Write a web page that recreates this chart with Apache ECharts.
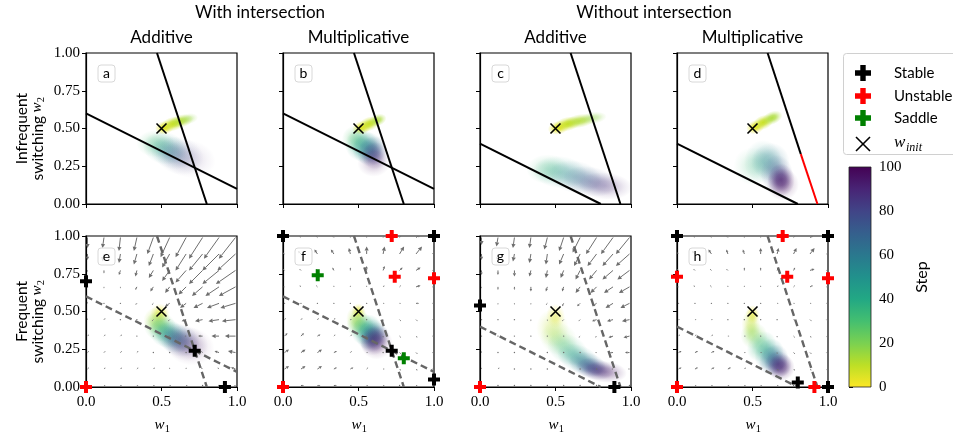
<!DOCTYPE html>
<html>
<head>
<meta charset="utf-8">
<script src="https://cdn.jsdelivr.net/npm/echarts@6/dist/echarts.min.js"></script>
<style>html,body{margin:0;padding:0;background:#fff}#chart{width:953px;height:436px}</style>
</head>
<body>
<div id="chart"></div>
<script>
// ---------- data ----------
const xTicks = [0, 0.5, 1];
const yTicks = [0, 0.25, 0.5, 0.75, 1];
const stepTicks = [0, 20, 40, 60, 80, 100];
const groupTitles = ['With intersection', 'Without intersection'];
const columnTitles = ['Additive', 'Multiplicative', 'Additive', 'Multiplicative'];
const panelLetters = ['a', 'b', 'c', 'd', 'e', 'f', 'g', 'h'];
const rowLabels = ['Infrequent', 'Frequent'];
const legendLabels = ['Stable', 'Unstable', 'Saddle'];
const initialWeight = [0.5, 0.5];

// nullclines, as end points [w1, w2]
const flatWith = [[0, 0.6], [1, 0.1]];
const steepWith = [[0.47, 1], [0.8, 0]];
const flatWithout = [[0, 0.4], [0.8, 0]];
const steepWithout = [[0.6, 1], [0.93, 0]];
const steepWithoutStable = [[0.6, 1], [0.82, 0.33]];
const steepWithoutUnstable = [[0.82, 0.33], [0.93, 0]];

// fixed points [w1, w2, kind]
const fixedE = [[0, 0.70, 'stable'], [0, 0, 'unstable'], [0.72, 0.24, 'stable'], [0.92, 0, 'stable']];
const fixedF = [[0, 1, 'stable'], [0.72, 1, 'unstable'], [1, 1, 'stable'], [0.23, 0.74, 'saddle'],
  [0.74, 0.73, 'unstable'], [1, 0.72, 'unstable'], [0.72, 0.24, 'stable'], [0.80, 0.19, 'saddle'],
  [1, 0.05, 'stable'], [0, 0, 'unstable']];
const fixedG = [[0, 0.54, 'stable'], [0, 0, 'unstable'], [0.89, 0, 'stable']];
const fixedH = [[0, 1, 'stable'], [0.70, 1, 'unstable'], [1, 1, 'stable'], [0, 0.73, 'unstable'],
  [0.73, 0.73, 'unstable'], [1, 0.72, 'unstable'], [0.80, 0.03, 'stable'], [0.91, 0, 'unstable'],
  [1, 0, 'stable'], [0, 0, 'unstable']];

// weight clouds over training: [step, w1, w2, spread1, spread2, tiltDeg, density]
const cloudA = [[4,0.52,0.505,0.035,0.025,10,1],[8,0.575,0.53,0.045,0.026,14,1],[12,0.63,0.55,0.045,0.024,12,0.85],
  [16,0.68,0.565,0.035,0.02,10,0.4],[30,0.46,0.40,0.07,0.05,0,0.3],[45,0.52,0.37,0.08,0.06,-10,0.35],
  [60,0.57,0.34,0.08,0.06,-15,0.3],[75,0.62,0.32,0.09,0.07,-15,0.22],[90,0.68,0.30,0.1,0.07,-10,0.14]];
const cloudB = [[4,0.52,0.505,0.035,0.025,15,1],[8,0.57,0.53,0.04,0.026,20,1],[13,0.625,0.555,0.035,0.022,20,0.85],
  [28,0.48,0.43,0.05,0.05,0,0.4],[40,0.52,0.39,0.06,0.06,-20,0.5],[55,0.56,0.37,0.055,0.06,-30,0.55],
  [70,0.59,0.35,0.05,0.06,-40,0.55],[85,0.61,0.32,0.05,0.05,-40,0.45],[97,0.60,0.27,0.06,0.05,0,0.22]];
const cloudC = [[4,0.52,0.505,0.04,0.025,12,1],[8,0.58,0.53,0.05,0.026,12,1],[12,0.66,0.55,0.06,0.025,10,0.85],
  [17,0.75,0.57,0.05,0.022,8,0.45],[32,0.45,0.23,0.08,0.055,0,0.28],[45,0.53,0.21,0.1,0.06,-5,0.3],
  [60,0.63,0.18,0.1,0.06,-10,0.3],[75,0.73,0.15,0.1,0.055,-10,0.35],[90,0.83,0.12,0.1,0.05,-5,0.3]];
const cloudD = [[4,0.52,0.51,0.035,0.025,20,1],[8,0.57,0.54,0.04,0.026,22,1],[13,0.63,0.57,0.04,0.024,22,0.9],
  [32,0.50,0.25,0.07,0.07,0,0.2],[45,0.57,0.28,0.07,0.08,0,0.3],[60,0.62,0.28,0.07,0.07,0,0.35],
  [75,0.66,0.20,0.06,0.07,0,0.45],[90,0.69,0.16,0.05,0.06,0,0.65],[100,0.70,0.13,0.06,0.06,0,0.3]];
const cloudE = [[3,0.49,0.49,0.035,0.035,0,0.55],[12,0.47,0.44,0.05,0.05,0,0.5],[25,0.49,0.40,0.06,0.055,-20,0.5],
  [40,0.53,0.36,0.065,0.055,-25,0.5],[55,0.58,0.33,0.07,0.055,-25,0.5],[70,0.62,0.31,0.075,0.06,-20,0.42],
  [85,0.66,0.29,0.085,0.065,-15,0.28],[100,0.69,0.27,0.09,0.07,-10,0.18]];
const cloudF = [[3,0.50,0.50,0.025,0.03,0,0.6],[12,0.49,0.45,0.04,0.05,0,0.5],[25,0.51,0.41,0.05,0.05,-40,0.55],
  [40,0.55,0.38,0.05,0.06,-40,0.6],[55,0.58,0.35,0.05,0.06,-40,0.6],[70,0.60,0.33,0.05,0.06,-40,0.6],
  [85,0.61,0.31,0.05,0.06,-40,0.5],[100,0.62,0.29,0.06,0.06,-40,0.3]];
const cloudG = [[3,0.50,0.47,0.035,0.045,0,0.4],[10,0.48,0.39,0.06,0.07,0,0.3],[20,0.52,0.32,0.07,0.06,-20,0.3],
  [35,0.58,0.25,0.08,0.055,-25,0.38],[50,0.65,0.19,0.08,0.05,-20,0.45],[65,0.71,0.15,0.07,0.045,-15,0.55],
  [80,0.76,0.12,0.07,0.04,-10,0.65],[95,0.83,0.10,0.08,0.04,-5,0.4]];
const cloudH = [[3,0.50,0.48,0.025,0.035,0,0.6],[10,0.49,0.41,0.035,0.06,0,0.45],[20,0.51,0.34,0.05,0.05,-30,0.45],
  [35,0.56,0.27,0.05,0.06,-40,0.5],[50,0.61,0.22,0.05,0.06,-40,0.55],[65,0.64,0.18,0.05,0.06,-40,0.6],
  [80,0.67,0.15,0.05,0.05,-40,0.65],[95,0.69,0.13,0.05,0.05,-40,0.5]];

// flow field sample positions (both axes) and arrow components (% of axis),
// rows from w2 = 0.99 down to w2 = 0.01, each row u0,v0,u1,v1,...
const flowGrid = [0.01, 0.119, 0.228, 0.337, 0.446, 0.554, 0.663, 0.772, 0.881, 0.99];
const flowE = [
  [0,-7, -1,-7, -1,-9, -2,-9, -4,-11, -6,-13, -7,-13, -9,-14, -10,-14, -11,-14],
  [0,-4, -1,-5, -1,-6, -2,-7, -3,-8, -5,-9, -7,-11, -9,-11, -11,-11, -12,-11],
  [0,-1, 0,-2, -1,-3, -1,-4, -3,-5, -5,-7, -7,-8, -9,-9, -11,-9, -13,-9],
  [0,0, 0,-1, 0,-1, -1,-2, -2,-3, -3,-4, -5,-5, -7,-6, -9,-6, -11,-6],
  [0,1, 0,0, 0,0, -1,-1, -1,-1, -3,-2, -4,-3, -6,-3, -8,-3, -10,-3],
  [0,1, 1,1, 0,0, 0,0, -1,-1, -1,-1, -3,-1, -5,-1, -7,-1, -9,-1],
  [1,1, 1,1, 1,1, 0,0, 0,0, -1,0, -1,0, -3,0, -5,0, -7,0],
  [1,1, 1,1, 1,1, 1,1, 0,0, 0,0, 0,0, -1,1, -3,1, -5,1],
  [1,1, 1,1, 1,1, 1,1, 1,1, 0,1, 0,1, -1,1, -1,1, -3,1],
  [1,0, 1,0, 1,0, 1,0, 1,0, 1,0, 1,0, 0,0, 0,0, -1,0]];
const flowF = [
  [-1,1, -1,1, -1,1, -1,1, 0,1, 0,1, 1,1, 1,1, 3,2, 0,0],
  [-2,1, -2,2, -2,3, -2,3, -1,4, 0,5, 1,5, 3,5, 4,5, 5,5],
  [-1,1, -1,1, -1,1, -1,2, 0,2, 0,3, 1,3, 2,2, 3,2, 4,2],
  [-1,0, -1,1, -1,1, 0,1, 0,1, 0,1, 1,1, 1,1, 3,1, 3,1],
  [0,0, 0,0, 0,0, 0,0, 0,0, 0,0, 1,0, 1,0, 2,0, 3,0],
  [1,1, 1,1, 1,1, 1,1, 1,0, 0,0, 0,-1, 1,-1, 1,-1, 2,-1],
  [2,2, 2,2, 2,1, 1,1, 1,1, 0,0, 0,-1, 1,-1, 1,-1, 2,-1],
  [3,2, 3,2, 3,2, 2,1, 1,1, 1,0, 0,0, 1,-1, 1,-1, 2,-1],
  [3,2, 3,2, 3,2, 2,1, 2,1, 1,1, 1,0, 1,-1, 1,-1, 2,-1],
  [2,0, 2,0, 2,0, 2,0, 1,0, 1,0, 1,0, 0,0, 1,0, 1,0]];
const flowG = [
  [0,-5, -1,-6, -1,-7, -1,-7, -2,-8, -3,-9, -5,-10, -7,-11, -8,-11, -9,-11],
  [0,-4, 0,-5, -1,-5, -1,-6, -1,-7, -3,-7, -4,-8, -6,-8, -7,-8, -9,-8],
  [0,-3, 0,-3, 0,-4, -1,-4, -1,-5, -2,-5, -3,-6, -5,-6, -7,-6, -8,-6],
  [0,-1, 0,-2, 0,-2, 0,-3, -1,-3, -1,-3, -3,-4, -4,-4, -6,-4, -7,-4],
  [0,-1, 0,-1, 0,-1, 0,-1, -1,-1, -1,-2, -2,-2, -3,-2, -5,-3, -6,-3],
  [0,0, 0,0, 0,0, 0,-1, 0,-1, -1,-1, -1,-1, -3,-1, -4,-1, -5,-1],
  [0,0, 0,0, 0,0, 0,0, 0,0, 0,0, -1,-1, -1,-1, -3,-1, -4,-1],
  [0,1, 0,0, 0,0, 0,0, 0,0, 0,0, 0,0, -1,0, -2,0, -3,0],
  [0,1, 1,1, 0,0, 0,0, 0,0, 0,0, 0,0, 0,0, -1,0, -1,0],
  [0,0, 0,0, 0,0, 0,0, 0,0, 0,0, 0,0, 0,0, 0,0, 0,0]];
const flowH = [
  [-1,1, -1,1, -1,1, -1,1, 0,1, 0,1, 1,1, 1,1, 2,1, 0,0],
  [-1,1, -2,2, -2,3, -1,3, -1,3, 0,4, 1,4, 2,4, 3,4, 5,4],
  [-1,1, -1,1, -1,1, -1,1, 0,2, 0,2, 1,2, 1,2, 3,1, 3,1],
  [-1,0, -1,1, -1,1, 0,1, 0,1, 0,1, 1,1, 1,1, 2,1, 3,1],
  [0,0, 0,0, 0,0, 0,0, 0,0, 0,0, 1,0, 1,0, 1,0, 2,0],
  [1,0, 1,0, 1,0, 0,0, 0,0, 0,0, 0,0, 1,0, 1,-1, 1,-1],
  [1,1, 1,1, 1,1, 1,0, 1,0, 0,0, 0,-1, 1,-1, 1,-1, 1,-1],
  [2,1, 2,1, 2,1, 1,1, 1,0, 1,0, 0,-1, 1,-1, 1,-1, 1,-1],
  [2,1, 2,1, 2,1, 2,1, 1,1, 1,0, 1,-1, 1,-1, 1,-1, 1,-1],
  [1,0, 1,0, 1,0, 1,0, 1,0, 1,0, 1,0, 0,0, 1,0, 1,0]];

// ---------- styling ----------
const SANS = 'Lato, "Open Sans", sans-serif';
const SERIF = '"Liberation Serif", "DejaVu Serif", serif';
const PANEL_LEFT = [86, 283, 480, 677];
const PANEL_TOP = [53, 236];
const PANEL_SIZE = 151;
const KIND_COLOR = { stable: '#000000', unstable: '#ff0000', saddle: '#008000' };
const PLUS = 'path://M2,0H4V2H6V4H4V6H2V4H0V2H2Z';
const CROSS = 'path://M0,0L10,10M10,0L0,10';
const ARROW_COLOR = '#6e6e6e';

const VIRIDIS = ['#440154','#482475','#414487','#355f8d','#2a788e','#21918c','#22a884','#44bf70','#7ad151','#bddf26','#fde725'];
function hexRgb(h) { return [parseInt(h.slice(1,3),16), parseInt(h.slice(3,5),16), parseInt(h.slice(5,7),16)]; }
function viridis(t) {
  t = Math.max(0, Math.min(1, t));
  const f = t * 10, i = Math.min(9, Math.floor(f)), r = f - i;
  const a = hexRgb(VIRIDIS[i]), b = hexRgb(VIRIDIS[i + 1]);
  return a.map((v, k) => Math.round(v + (b[k] - v) * r));
}
// the colour bar runs from yellow (step 0) to purple (step 100)
function stepRgb(step) { return viridis(1 - step / 100); }
function rgba(c, a) { return 'rgba(' + c[0] + ',' + c[1] + ',' + c[2] + ',' + a + ')'; }

// ---------- chart ----------
const grids = [], xAxes = [], yAxes = [], series = [];
for (let i = 0; i < 8; i++) {
  const row = Math.floor(i / 4), col = i % 4;
  grids.push({ left: PANEL_LEFT[col], top: PANEL_TOP[row], width: PANEL_SIZE, height: PANEL_SIZE,
    show: true, borderColor: '#000', borderWidth: 1.2, backgroundColor: 'transparent' });
  xAxes.push({ gridIndex: i, type: 'value', min: 0, max: 1, interval: 0.5,
    axisLine: { show: true, onZero: false, lineStyle: { color: '#000', width: 1.2 } },
    axisTick: { show: true, length: 4, lineStyle: { color: '#000', width: 1 } },
    axisLabel: { show: row === 1, formatter: v => v.toFixed(1), fontFamily: SERIF, fontSize: 15, color: '#000', margin: 8 },
    splitLine: { show: false } });
  yAxes.push({ gridIndex: i, type: 'value', min: 0, max: 1, interval: 0.25,
    axisLine: { show: true, onZero: false, lineStyle: { color: '#000', width: 1.2 } },
    axisTick: { show: true, length: 4, lineStyle: { color: '#000', width: 1 } },
    axisLabel: { show: col === 0, formatter: v => v.toFixed(2), fontFamily: SERIF, fontSize: 15, color: '#000', margin: 6 },
    splitLine: { show: false } });
}
// colour bar axes
grids.push({ left: 849, top: 167, width: 22, height: 220, show: false });
xAxes.push({ gridIndex: 8, type: 'value', min: 0, max: 1, show: false });
yAxes.push({ gridIndex: 8, type: 'value', min: 0, max: 100, interval: 20, position: 'right',
  axisLine: { show: false }, axisTick: { show: true, length: 4, lineStyle: { color: '#000' } },
  axisLabel: { fontFamily: SERIF, fontSize: 15, color: '#000', margin: 8 }, splitLine: { show: false } });

function cloudSeries(gi, blobs) {
  return {
    type: 'custom', xAxisIndex: gi, yAxisIndex: gi, clip: true, z: 2, silent: true,
    data: blobs,
    renderItem: function (params, api) {
      const b = blobs[params.dataIndex];
      const c = api.coord([b[1], b[2]]);
      const s = api.size([b[3], b[4]]);
      const col = stepRgb(b[0]), a = b[6];
      return {
        type: 'circle', shape: { cx: 0, cy: 0, r: 1 },
        x: c[0], y: c[1], scaleX: s[0] * 1.8, scaleY: s[1] * 1.8, rotation: b[5] * Math.PI / 180,
        style: { fill: new echarts.graphic.RadialGradient(0.5, 0.5, 0.5, [
          { offset: 0, color: rgba(col, a) }, { offset: 0.35, color: rgba(col, a * 0.8) },
          { offset: 0.7, color: rgba(col, a * 0.3) }, { offset: 1, color: rgba(col, 0) }]) }
      };
    }
  };
}

function flowSeries(gi, field) {
  const pts = [];
  field.forEach((rowVals, r) => {
    const w2 = flowGrid[flowGrid.length - 1 - r];
    for (let c = 0; c < flowGrid.length; c++) pts.push([flowGrid[c], w2, rowVals[2 * c] / 100, rowVals[2 * c + 1] / 100]);
  });
  return {
    type: 'custom', xAxisIndex: gi, yAxisIndex: gi, clip: true, z: 3, silent: true,
    data: pts,
    renderItem: function (params, api) {
      const p = pts[params.dataIndex];
      const a = api.coord([p[0], p[1]]), b = api.coord([p[0] + p[2], p[1] + p[3]]);
      const dx = b[0] - a[0], dy = b[1] - a[1], len = Math.hypot(dx, dy);
      if (len < 1.5) return { type: 'circle', shape: { cx: a[0], cy: a[1], r: 0.7 }, style: { fill: ARROW_COLOR } };
      const ux = dx / len, uy = dy / len;
      const hl = Math.min(4.2, len * 0.55), hw = hl * 0.5;
      const bx = b[0] - ux * hl, by = b[1] - uy * hl;
      return { type: 'group', children: [
        { type: 'line', shape: { x1: a[0], y1: a[1], x2: bx, y2: by }, style: { stroke: ARROW_COLOR, lineWidth: 1 } },
        { type: 'polygon', shape: { points: [[b[0], b[1]], [bx - uy * hw, by + ux * hw], [bx + uy * hw, by - ux * hw]] },
          style: { fill: ARROW_COLOR } }
      ] };
    }
  };
}

function lineSeries(gi, pts, color, dashed) {
  return { type: 'line', xAxisIndex: gi, yAxisIndex: gi, data: pts, symbol: 'none', silent: true, z: 4,
    lineStyle: { color: color, width: dashed ? 2.4 : 2, type: dashed ? [7, 4] : 'solid' } };
}

function fixedSeries(gi, pts) {
  return { type: 'scatter', xAxisIndex: gi, yAxisIndex: gi, clip: false, z: 6, silent: true,
    symbol: PLUS, symbolSize: 12,
    data: pts.map(p => ({ value: [p[0], p[1]], itemStyle: { color: KIND_COLOR[p[2]], opacity: 1 } })) };
}

function initSeries(gi) {
  return { type: 'scatter', xAxisIndex: gi, yAxisIndex: gi, z: 7, silent: true, symbol: CROSS, symbolSize: 10,
    itemStyle: { color: 'transparent', borderColor: '#000', borderWidth: 1.6, opacity: 1 }, data: [initialWeight] };
}

const clouds = [cloudA, cloudB, cloudC, cloudD, cloudE, cloudF, cloudG, cloudH];
const flows = { 4: flowE, 5: flowF, 6: flowG, 7: flowH };
const fixedPts = { 4: fixedE, 5: fixedF, 6: fixedG, 7: fixedH };

for (let i = 0; i < 8; i++) {
  const row = Math.floor(i / 4), col = i % 4;
  series.push(cloudSeries(i, clouds[i]));
  if (row === 1) series.push(flowSeries(i, flows[i]));
  const withInt = col < 2;
  const lineColor = row === 0 ? '#000' : '#666666';
  series.push(lineSeries(i, withInt ? flatWith : flatWithout, lineColor, row === 1));
  if (i === 3) {
    series.push(lineSeries(i, steepWithoutStable, '#000', false));
    series.push(lineSeries(i, steepWithoutUnstable, '#ff0000', false));
  } else {
    series.push(lineSeries(i, withInt ? steepWith : steepWithout, lineColor, row === 1));
  }
  if (row === 1) series.push(fixedSeries(i, fixedPts[i]));
  series.push(initSeries(i));
}

// colour bar
series.push({
  type: 'custom', xAxisIndex: 8, yAxisIndex: 8, silent: true, data: [0],
  renderItem: function (params, api) {
    const p0 = api.coord([0, 0]), p1 = api.coord([1, 100]);
    const stops = [];
    for (let k = 0; k <= 10; k++) stops.push({ offset: k / 10, color: rgba(stepRgb(k * 10), 1) });
    return { type: 'rect', shape: { x: p0[0], y: p1[1], width: p1[0] - p0[0], height: p0[1] - p1[1] },
      style: { fill: new echarts.graphic.LinearGradient(0, 1, 0, 0, stops), stroke: '#222', lineWidth: 0.8 } };
  }
});

// ---------- text and legend ----------
const graphics = [];
function text(x, y, str, opts) {
  graphics.push(Object.assign({ type: 'text', x: x, y: y,
    style: Object.assign({ text: str, fontFamily: SANS, fontSize: 17, fill: '#000', align: 'center', verticalAlign: 'middle' }, opts || {}) }));
}
// math symbol w with a subscript, drawn in a local frame
function mathW(x, y, sub, size) {
  return [
    { type: 'text', x: x, y: y, style: { text: 'w', fontFamily: SERIF, fontStyle: 'italic', fontSize: size, fill: '#000', align: 'left', verticalAlign: 'middle' } },
    { type: 'text', x: x + size * 0.68, y: y + size * 0.28, style: { text: sub, fontFamily: SERIF, fontStyle: sub === '1' || sub === '2' ? 'normal' : 'italic', fontSize: size * 0.7, fill: '#000', align: 'left', verticalAlign: 'middle' } }
  ];
}

text((PANEL_LEFT[0] + PANEL_LEFT[1] + PANEL_SIZE) / 2, 13, groupTitles[0]);
text((PANEL_LEFT[2] + PANEL_LEFT[3] + PANEL_SIZE) / 2, 13, groupTitles[1]);
for (let c = 0; c < 4; c++) text(PANEL_LEFT[c] + PANEL_SIZE / 2, 38, columnTitles[c]);

for (let i = 0; i < 8; i++) {
  const row = Math.floor(i / 4), col = i % 4;
  const bx = PANEL_LEFT[col] + 12, by = PANEL_TOP[row] + 12;
  graphics.push({ type: 'rect', shape: { x: bx, y: by, width: 17, height: 17, r: 3 },
    style: { fill: 'rgba(255,255,255,0.8)', stroke: '#d8d8d8', lineWidth: 1 }, z: 10 });
  graphics.push({ type: 'text', x: bx + 8.5, y: by + 8, z: 11,
    style: { text: panelLetters[i], fontFamily: SANS, fontSize: 14, fill: '#000', align: 'center', verticalAlign: 'middle' } });
}

// x-axis titles
for (let c = 0; c < 4; c++) {
  const cx = PANEL_LEFT[c] + PANEL_SIZE / 2 - 7;
  mathW(cx, 425, '1', 15).forEach(g => graphics.push(g));
}
// y-axis titles (rotated)
for (let r = 0; r < 2; r++) {
  const cy = PANEL_TOP[r] + PANEL_SIZE / 2;
  graphics.push({ type: 'group', x: 22, y: cy, rotation: Math.PI / 2, children: [
    { type: 'text', x: 0, y: 0, style: { text: rowLabels[r], fontFamily: SANS, fontSize: 15.5, fill: '#000', align: 'center', verticalAlign: 'middle' } }
  ] });
  graphics.push({ type: 'group', x: 38, y: cy, rotation: Math.PI / 2, children: [
    { type: 'text', x: -52, y: 0, style: { text: 'switching', fontFamily: SANS, fontSize: 15.5, fill: '#000', align: 'left', verticalAlign: 'middle' } }
  ].concat(mathW(16, -1, '2', 15)) });
}

// legend box
graphics.push({ type: 'rect', shape: { x: 843.5, y: 53.5, width: 120, height: 101, r: 3 },
  style: { fill: '#fff', stroke: '#d0d0d0', lineWidth: 1 }, z: 10 });
const legendY = [73, 96, 118];
['stable', 'unstable', 'saddle'].forEach((k, j) => {
  const cx = 863, cy = legendY[j], s = 8, t = 2.7;
  graphics.push({ type: 'polygon', z: 11, shape: { points: [[cx - t, cy - s], [cx + t, cy - s], [cx + t, cy - t], [cx + s, cy - t], [cx + s, cy + t],
    [cx + t, cy + t], [cx + t, cy + s], [cx - t, cy + s], [cx - t, cy + t], [cx - s, cy + t], [cx - s, cy - t], [cx - t, cy - t]] },
    style: { fill: KIND_COLOR[k] } });
  graphics.push({ type: 'text', x: 894, y: cy, z: 11, style: { text: legendLabels[j], fontFamily: SANS, fontSize: 15, fill: '#000', align: 'left', verticalAlign: 'middle' } });
});
graphics.push({ type: 'polyline', z: 11, shape: { points: [[856, 137], [870, 151]] }, style: { stroke: '#000', lineWidth: 1.6 } });
graphics.push({ type: 'polyline', z: 11, shape: { points: [[870, 137], [856, 151]] }, style: { stroke: '#000', lineWidth: 1.6 } });
graphics.push({ type: 'text', x: 894, y: 143, z: 11, style: { text: 'w', fontFamily: SERIF, fontStyle: 'italic', fontSize: 17, fill: '#000', align: 'left', verticalAlign: 'middle' } });
graphics.push({ type: 'text', x: 906, y: 148, z: 11, style: { text: 'init', fontFamily: SERIF, fontStyle: 'italic', fontSize: 12, fill: '#000', align: 'left', verticalAlign: 'middle' } });

// colour bar title
graphics.push({ type: 'group', x: 922, y: 277, rotation: Math.PI / 2, children: [
  { type: 'text', x: 0, y: 0, style: { text: 'Step', fontFamily: SANS, fontSize: 16, fill: '#000', align: 'center', verticalAlign: 'middle' } }] });

const chart = echarts.init(document.getElementById('chart'), null, { renderer: 'canvas' });
chart.setOption({
  animation: false, backgroundColor: '#fff',
  grid: grids, xAxis: xAxes, yAxis: yAxes, series: series,
  graphic: { elements: graphics }
});
</script>
</body>
</html>
